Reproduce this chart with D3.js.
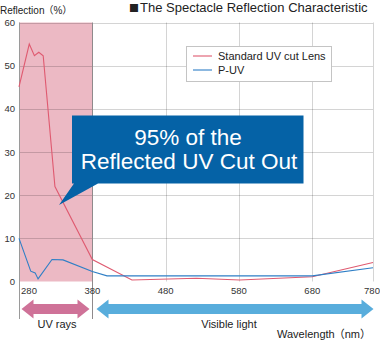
<!DOCTYPE html>
<html>
<head>
<meta charset="utf-8">
<script src="https://cdn.jsdelivr.net/npm/d3@7"></script>
<style>
  html, body { margin: 0; padding: 0; background: #fff; }
  svg { display: block; font-family: "Liberation Sans", Arial, "Noto Sans CJK JP", sans-serif; }
</style>
</head>
<body>
<svg id="chart" width="380" height="341"></svg>
<script>
// Wavelength ticks (nm) and reflection ticks (%)
const xTicks = [280, 380, 480, 580, 680, 780];
const yTicks = [0, 10, 20, 30, 40, 50, 60];

// Standard UV cut lens
const stdWave = [280, 294, 301, 307, 313, 329, 380, 434, 522, 581, 680, 780];
const stdRefl = [45.1, 55.0, 52.3, 53.1, 52.3, 22.0, 5.1, 0.35, 0.75, 0.35, 1.1, 4.4];

// P-UV lens
const puvWave = [280, 296, 302, 306, 325, 340, 380, 400, 680, 780];
const puvRefl = [10.0, 2.4, 2.0, 0.6, 5.1, 5.0, 2.3, 1.3, 1.3, 3.2];

const seriesNames = ["Standard UV cut Lens", "P-UV"];
const seriesColors = ["#df5a70", "#2f7fc6"];

const uvBand = [280, 380];

const svg = d3.select("#chart");

const x = d3.scaleLinear().domain([280, 680, 780]).range([19, 312.3, 373]);
const y = d3.scaleLinear().domain([0, 60]).range([281.5, 22.5]);

// UV region shading
svg.append("rect")
  .attr("x", x(uvBand[0])).attr("y", y(60))
  .attr("width", x(uvBand[1]) - x(uvBand[0]))
  .attr("height", y(0) - y(60))
  .attr("fill", "#ecb9c4");

// Grid
const grid = svg.append("g").attr("stroke", "rgba(0,0,0,0.17)").attr("stroke-width", 1);
grid.selectAll("line.h").data(yTicks.filter(d => d > 0)).join("line")
  .attr("x1", x(280)).attr("x2", x(780))
  .attr("y1", d => Math.round(y(d)) + 0.5).attr("y2", d => Math.round(y(d)) + 0.5);
grid.selectAll("line.v").data(xTicks.filter(d => d !== 280 && d !== 380)).join("line")
  .attr("y1", y(60)).attr("y2", y(0))
  .attr("x1", d => Math.round(x(d)) + 0.5).attr("x2", d => Math.round(x(d)) + 0.5);

// Region boundaries, extended down through the band arrows
svg.selectAll("line.edge").data(uvBand).join("line")
  .attr("x1", d => Math.round(x(d)) + 0.5).attr("x2", d => Math.round(x(d)) + 0.5)
  .attr("y1", y(60)).attr("y2", 319)
  .attr("stroke", d => d === 280 ? "#9a9a9a" : "#8f8a8c")
  .attr("stroke-width", 1);

// Y tick labels
svg.append("g").selectAll("text").data(yTicks).join("text")
  .attr("x", 15).attr("y", d => y(d) + 3.5)
  .attr("text-anchor", "end")
  .attr("font-size", 9.5).attr("fill", "#333")
  .text(d => d);

// X tick labels
svg.append("g").selectAll("text").data(xTicks).join("text")
  .attr("x", d => d === 280 ? x(d) + 10 : d === 780 ? x(d) - 1 : x(d))
  .attr("y", 294)
  .attr("text-anchor", "middle")
  .attr("font-size", 9.5).attr("fill", "#333")
  .text(d => d);

// Series lines
const line = d3.line().x(d => x(d[0])).y(d => y(d[1]));
const series = [
  d3.zip(stdWave, stdRefl),
  d3.zip(puvWave, puvRefl)
];
svg.append("g").selectAll("path").data(series).join("path")
  .attr("d", line)
  .attr("fill", "none")
  .attr("stroke", (d, i) => seriesColors[i])
  .attr("stroke-width", 1.1);

// Legend
const lg = svg.append("g");
lg.append("rect").attr("x", 186.5).attr("y", 46.5).attr("width", 145).attr("height", 35)
  .attr("fill", "#fff").attr("stroke", "#c4c4c4");
seriesNames.forEach((name, i) => {
  const ly = 56 + i * 14;
  lg.append("line").attr("x1", 193).attr("x2", 212).attr("y1", ly).attr("y2", ly)
    .attr("stroke", seriesColors[i]).attr("stroke-width", 1.1);
  lg.append("text").attr("x", 218).attr("y", ly + 4)
    .attr("font-size", 11).attr("fill", "#222").text(name);
});

// Callout
const co = svg.append("g");
co.append("path")
  .attr("d", "M72,115.5 H303.5 V183.5 H98 L59,205 L74,183.5 H72 Z")
  .attr("fill", "#0562a6");
co.append("text").attr("x", 188).attr("y", 144.5).attr("text-anchor", "middle")
  .attr("font-size", 22.5).attr("fill", "#fff").text("95% of the");
co.append("text").attr("x", 189).attr("y", 168.5).attr("text-anchor", "middle")
  .attr("font-size", 22.5).attr("fill", "#fff").text("Reflected UV Cut Out");

// Band arrows
function arrow(x0, x1, cy, color) {
  const hl = 12, hh = 9.5, bh = 5;
  svg.append("path")
    .attr("d", `M${x0},${cy} L${x0 + hl},${cy - hh} V${cy - bh} H${x1 - hl} V${cy - hh} L${x1},${cy} L${x1 - hl},${cy + hh} V${cy + bh} H${x0 + hl} V${cy + hh} Z`)
    .attr("fill", color);
}
arrow(21.5, 89.5, 309, "#cf7298");
arrow(96.5, 373.5, 309, "#58addc");

svg.append("text").attr("x", 57).attr("y", 328).attr("text-anchor", "middle")
  .attr("font-size", 11).attr("fill", "#222").text("UV rays");
svg.append("text").attr("x", 229).attr("y", 328).attr("text-anchor", "middle")
  .attr("font-size", 11).attr("fill", "#222").text("Visible light");
svg.append("text").attr("x", 371).attr("y", 338).attr("text-anchor", "end")
  .attr("font-size", 11).attr("fill", "#222")
  .text("Wavelength").append("tspan").attr("dx", -1).text("（nm）");

// Titles
svg.append("text").attr("x", 0).attr("y", 14)
  .attr("font-size", 10).attr("fill", "#222")
  .text("Reflection").append("tspan").attr("dx", -1).text("（%）");
const title = svg.append("text").attr("x", 129).attr("y", 12)
  .attr("font-size", 13).attr("fill", "#222");
title.append("tspan").attr("font-family", "'Noto Sans CJK JP'").attr("font-size", 10).attr("dy", -0.5).text("■");
title.append("tspan").attr("dx", 1).attr("dy", 0.5).text("The Spectacle Reflection Characteristic");
</script>
</body>
</html>
